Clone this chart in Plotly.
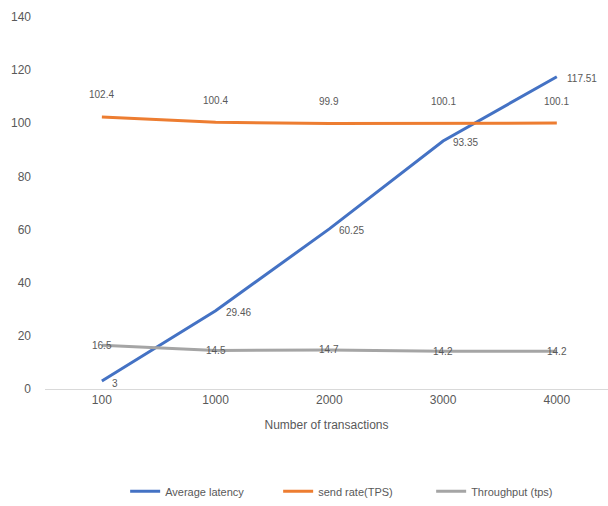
import plotly.graph_objects as go

# Transaction counts on the category axis
transactions = ["100", "1000", "2000", "3000", "4000"]

# Measured series
avg_latency = [3, 29.46, 60.25, 93.35, 117.51]
send_rate = [102.4, 100.4, 99.9, 100.1, 100.1]
throughput = [16.5, 14.5, 14.7, 14.2, 14.2]

y_ticks = [0, 20, 40, 60, 80, 100, 120, 140]

FONT = "Liberation Sans Narrow, Arial Narrow, Liberation Sans, sans-serif"
LABEL_COLOR = "#595959"

series = [
    ("Average latency", avg_latency, "#4472C4"),
    ("send rate(TPS)", send_rate, "#ED7D31"),
    ("Throughput (tps)", throughput, "#A5A5A5"),
]

fig = go.Figure()
for name, values, color in series:
    fig.add_trace(go.Scatter(
        x=transactions, y=values, name=name, mode="lines",
        line=dict(color=color, width=3),
    ))

# Value labels: latency to the right, send rate above, throughput on the line
label_style = {
    "Average latency": dict(xanchor="left", yanchor="middle", xshift=8, yshift=-2),
    "send rate(TPS)": dict(xanchor="center", yanchor="middle", xshift=0, yshift=22),
    "Throughput (tps)": dict(xanchor="center", yanchor="middle", xshift=0, yshift=0),
}
for name, values, _ in series:
    st = label_style[name]
    for i, v in enumerate(values):
        # category axis positions are addressed by index
        fig.add_annotation(
            x=i, y=v, xref="x", yref="y", text=str(v), showarrow=False,
            font=dict(size=10, color=LABEL_COLOR, family=FONT), **st,
        )

fig.update_layout(
    width=608, height=506,
    margin=dict(l=45, r=0, t=17, b=117),
    paper_bgcolor="white", plot_bgcolor="white",
    font=dict(family=FONT, color=LABEL_COLOR, size=12),
    showlegend=True,
    legend=dict(orientation="h", x=0.55, xanchor="center", y=-0.275,
                yanchor="middle", font=dict(size=11, color=LABEL_COLOR),
                itemwidth=30, entrywidth=108),
    xaxis=dict(
        type="category", range=[-0.5, 4.45],
        showgrid=False, showline=True, linecolor="#D9D9D9", linewidth=1,
        ticks="", tickfont=dict(size=12, color=LABEL_COLOR),
        title=dict(text="Number of transactions", standoff=14,
                   font=dict(size=12, color=LABEL_COLOR)),
    ),
    yaxis=dict(
        range=[0, 140], tickvals=y_ticks, showgrid=False, zeroline=False,
        showline=False, ticks="", tickfont=dict(size=12, color=LABEL_COLOR),
        ticklabelstandoff=13,
    ),
)

fig.write_html("out.html")
